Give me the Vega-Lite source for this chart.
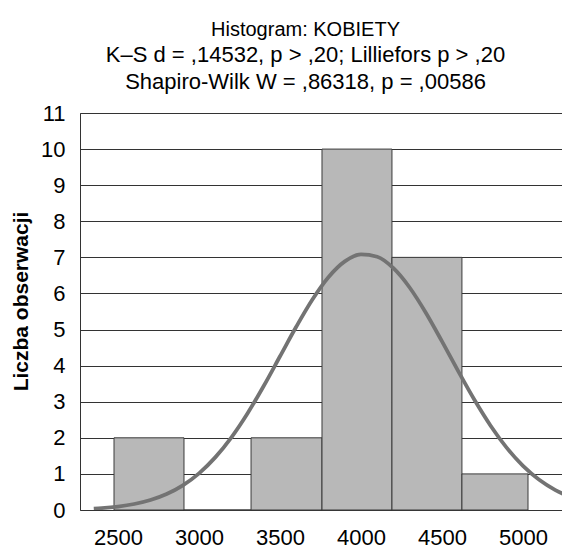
{
  "$schema": "https://vega.github.io/schema/vega-lite/v6.json",
  "autosize": "none",
  "padding": {"left": 80, "top": 113, "right": 0, "bottom": 40},
  "width": 483,
  "height": 397,
  "background": "white",
  "title": {
    "text": "Histogram: KOBIETY",
    "subtitle": ["K–S  d = ,14532, p > ,20; Lilliefors p > ,20", "Shapiro-Wilk  W = ,86318, p = ,00586"],
    "font": "Liberation Sans",
    "fontSize": 20,
    "fontWeight": "normal",
    "color": "#000",
    "subtitleFont": "Liberation Sans",
    "subtitleFontSize": 22,
    "subtitleColor": "#000",
    "subtitleLineHeight": 27,
    "subtitlePadding": 5,
    "anchor": "middle",
    "frame": "group",
    "dx": -16,
    "offset": 9
  },
  "config": {
    "view": {"stroke": "#333", "strokeWidth": 1}
  },
  "datasets": {
    "bins": [
      {"start": 2475, "end": 2907, "count": 2},
      {"start": 2907, "end": 3321, "count": 0},
      {"start": 3321, "end": 3759, "count": 2},
      {"start": 3759, "end": 4191, "count": 10},
      {"start": 4191, "end": 4623, "count": 7},
      {"start": 4623, "end": 5031, "count": 1}
    ],
    "curve": [
      {"x": 2350, "y": 0.040}, {"x": 2400, "y": 0.054}, {"x": 2500, "y": 0.096}, {"x": 2600, "y": 0.166},
      {"x": 2700, "y": 0.276}, {"x": 2800, "y": 0.442}, {"x": 2900, "y": 0.683}, {"x": 3000, "y": 1.016},
      {"x": 3100, "y": 1.458}, {"x": 3200, "y": 2.014}, {"x": 3300, "y": 2.682}, {"x": 3400, "y": 3.443},
      {"x": 3500, "y": 4.259}, {"x": 3600, "y": 5.077}, {"x": 3700, "y": 5.832}, {"x": 3800, "y": 6.456},
      {"x": 3900, "y": 6.888}, {"x": 4000, "y": 7.082}, {"x": 4100, "y": 7.017}, {"x": 4200, "y": 6.699},
      {"x": 4300, "y": 6.165}, {"x": 4400, "y": 5.467}, {"x": 4500, "y": 4.672}, {"x": 4600, "y": 3.847},
      {"x": 4700, "y": 3.053}, {"x": 4800, "y": 2.335}, {"x": 4900, "y": 1.721}, {"x": 5000, "y": 1.222},
      {"x": 5100, "y": 0.837}, {"x": 5200, "y": 0.552}, {"x": 5300, "y": 0.350}
    ]
  },
  "layer": [
    {
      "data": {"name": "bins"},
      "mark": {"type": "bar", "fill": "#b8b8b8", "stroke": "#3a3a3a", "strokeWidth": 1},
      "encoding": {
        "x": {"field": "start", "type": "quantitative",
              "scale": {"domain": [2265, 5247], "nice": false, "zero": false},
              "axis": {"values": [2500, 3000, 3500, 4000, 4500, 5000], "format": "d", "title": null, "grid": false, "ticks": false, "domain": false,
                       "labelFont": "Liberation Sans", "labelFontSize": 22, "labelColor": "#000", "labelPadding": 17, "labelOverlap": false}},
        "x2": {"field": "end"},
        "y": {"field": "count", "type": "quantitative",
              "scale": {"domain": [0, 11], "nice": false},
              "axis": {"values": [0,1,2,3,4,5,6,7,8,9,10,11], "format": "d", "title": "Liczba obserwacji", "grid": true, "gridColor": "#333", "gridOpacity": 1, "gridWidth": 1,
                       "ticks": false, "domain": false, "labelFont": "Liberation Sans", "labelFontSize": 22, "labelColor": "#000", "labelPadding": 15, "labelOverlap": false,
                       "titleFont": "Liberation Sans", "titleFontSize": 21, "titleFontWeight": "bold", "titleColor": "#000",
                       "titleX": -53, "titleY": 188, "titleAngle": -90, "titleAlign": "center", "titleBaseline": "alphabetic"}},
        "y2": {"datum": 0}
      }
    },
    {
      "data": {"name": "curve"},
      "mark": {"type": "line", "color": "#737373", "strokeWidth": 3.8, "interpolate": "monotone", "clip": true},
      "encoding": {
        "x": {"field": "x", "type": "quantitative",
              "axis": {"values": [2500, 3000, 3500, 4000, 4500, 5000], "format": "d", "title": null, "grid": false, "ticks": false, "domain": false,
                       "labelFont": "Liberation Sans", "labelFontSize": 22, "labelColor": "#000", "labelPadding": 17, "labelOverlap": false}},
        "y": {"field": "y", "type": "quantitative",
              "axis": {"values": [0,1,2,3,4,5,6,7,8,9,10,11], "format": "d", "title": "Liczba obserwacji", "grid": true, "gridColor": "#333", "gridOpacity": 1, "gridWidth": 1,
                       "ticks": false, "domain": false, "labelFont": "Liberation Sans", "labelFontSize": 22, "labelColor": "#000", "labelPadding": 15, "labelOverlap": false,
                       "titleFont": "Liberation Sans", "titleFontSize": 21, "titleFontWeight": "bold", "titleColor": "#000",
                       "titleX": -53, "titleY": 188, "titleAngle": -90, "titleAlign": "center", "titleBaseline": "alphabetic"}}
      }
    }
  ]
}
